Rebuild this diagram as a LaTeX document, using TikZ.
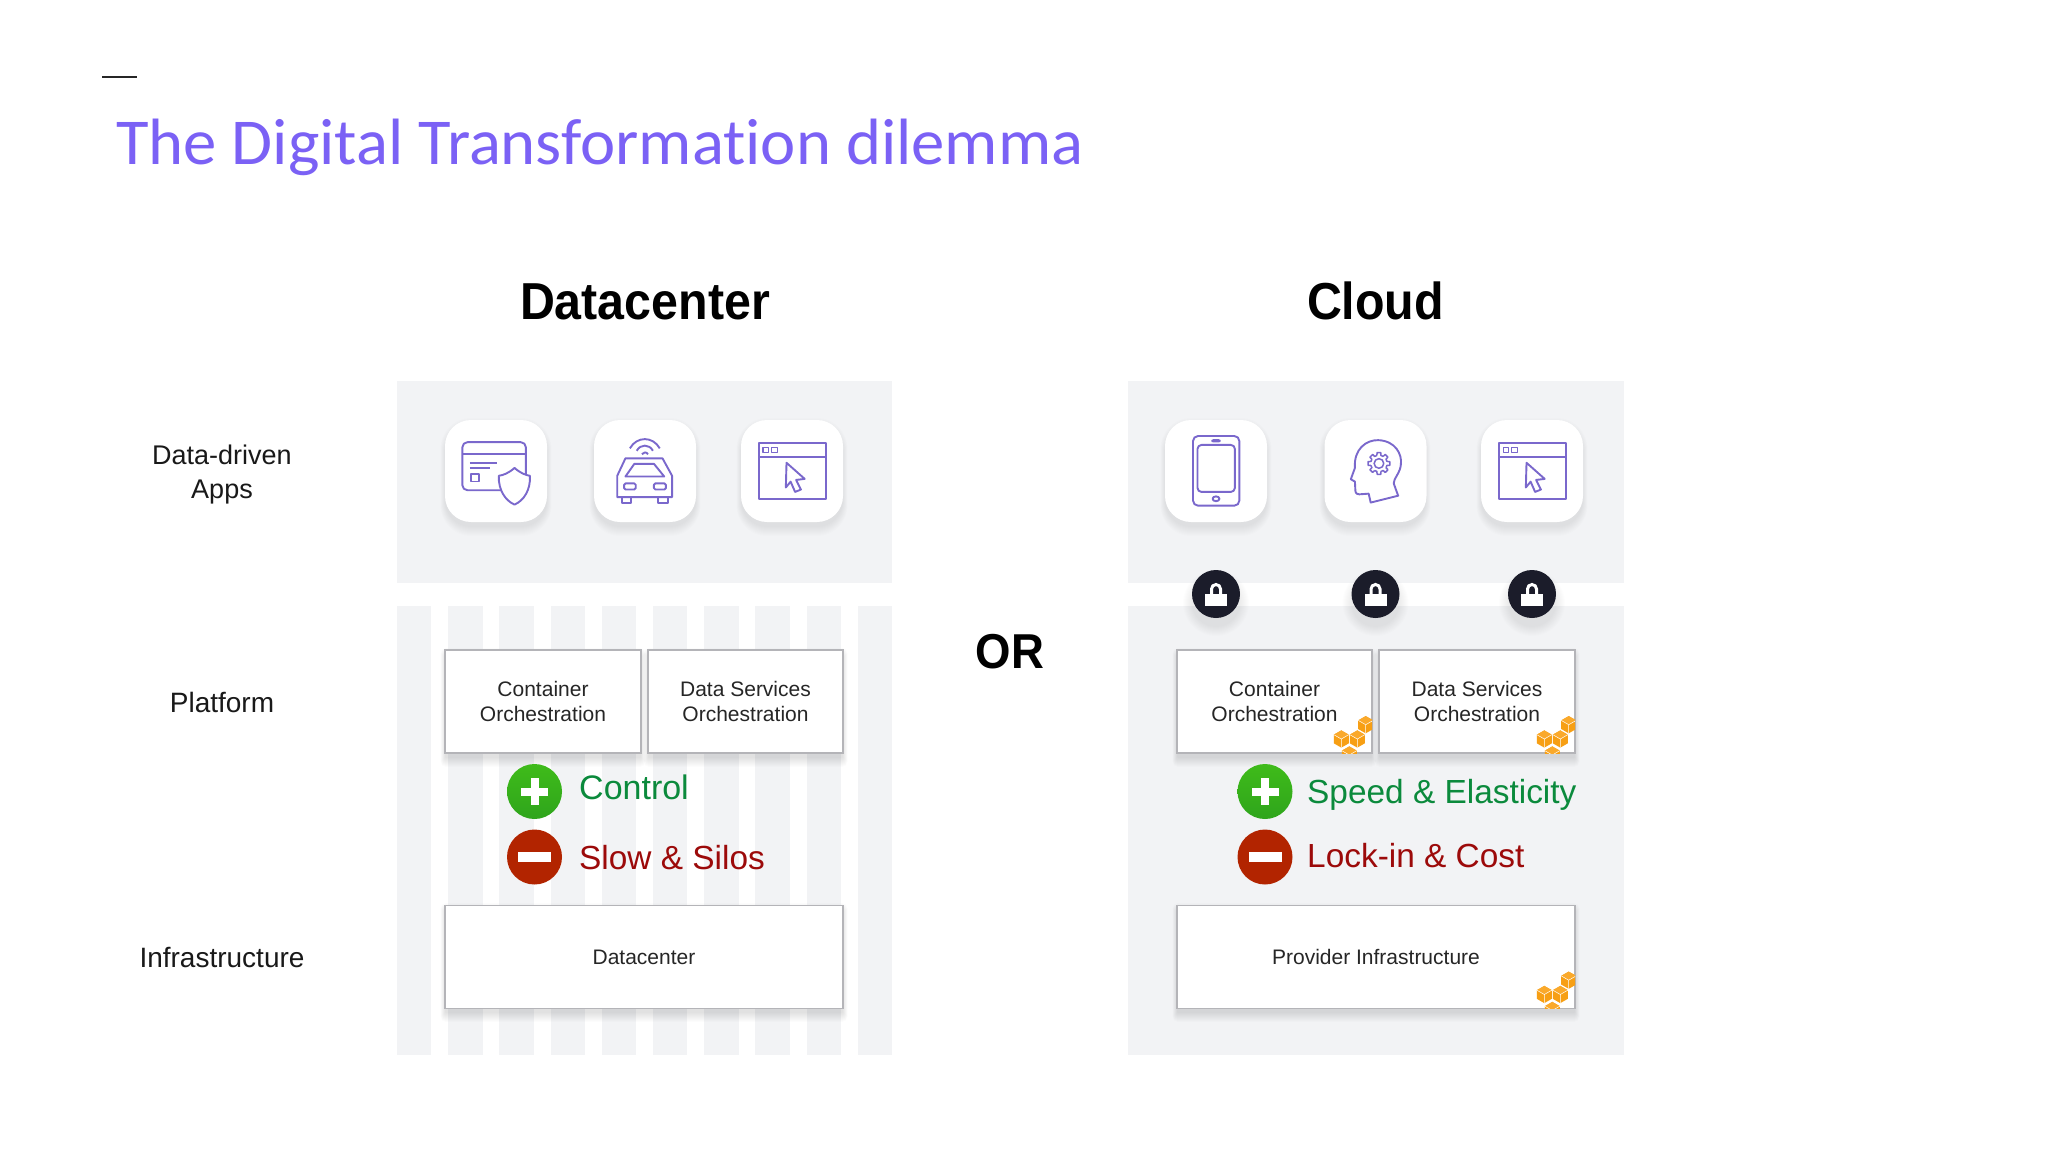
\documentclass[tikz,border=0pt]{standalone}
\usepackage{fontspec}
\setmainfont{Liberation Sans}
\newfontfamily\titlefont[FakeStretch=1.018,Ligatures={NoCommon}]{Carlito}
\newfontfamily\headfont[FakeStretch=.93]{Liberation Sans}
\usetikzlibrary{calc}
\definecolor{panel}{HTML}{F2F3F5}
\definecolor{icon}{HTML}{7A68CC}
\definecolor{titlec}{HTML}{7B61F5}
\definecolor{boxline}{HTML}{B4B4B8}
\definecolor{goodc}{HTML}{0B8A3C}
\definecolor{badc}{HTML}{9C0A0A}
\definecolor{lockc}{HTML}{1B1C2A}
\definecolor{awsc}{HTML}{F79F14}
\definecolor{awsl}{HTML}{FAA92B}
\definecolor{plustop}{HTML}{3FBB1A}
\definecolor{plusbot}{HTML}{2FA51C}
\definecolor{minusc}{HTML}{B22400}
\newcommand\fsz[1]{\fontsize{#1}{#1}\selectfont}
\tikzset{
  x=1pt,y=-1pt,
  panelfill/.style={fill=panel,draw=none},
  platbox/.style={draw=boxline,line width=1.6pt,fill=white,inner sep=0pt,align=center,text=black!85,font=\fsz{21}},
  tile/.style={fill=white,rounded corners=26pt,minimum width=102pt,minimum height=102pt,inner sep=0pt},
  sidelabel/.style={align=center,font=\fsz{28},text=black!90,inner sep=0pt},
  heading/.style={font=\headfont\bfseries\fsz{52},text=black,inner sep=0pt},
  plusnode/.style={circle,minimum size=55pt,inner sep=0pt,top color=plustop,bottom color=plusbot},
  goodlabel/.style={anchor=west,font=\fsz{33.4},text=goodc,inner sep=0pt},
  badlabel/.style={anchor=west,font=\fsz{33.4},text=badc,inner sep=0pt},
  minusnode/.style={circle,minimum size=55pt,inner sep=0pt,fill=minusc},
  locknode/.style={circle,minimum size=48pt,inner sep=0pt,fill=lockc},
  ico/.style={draw=icon,line width=1.9pt,line join=round},
}
\newcommand\softshadow[6]{% x0 y0 x1 y1 radius opacity
  \foreach \i in {0,...,9}{
    \fill[black,opacity=#6,rounded corners=#5+\i*.5] ({#1-\i*.5},#2-\i+7) rectangle ({#3+\i*.5},#4+\i+5);
  }}
\newcommand\awscube[2]{%
  \begin{scope}[shift={(#1,#2)},scale=1.15]
    \fill[awsc] (0,-7.5)--(6.5,-3.75)--(6.5,3.75)--(0,7.5)--(-6.5,3.75)--(-6.5,-3.75)--cycle;
    \fill[awsl] (0,-7.5)--(6.5,-3.75)--(0,0)--(-6.5,-3.75)--cycle;
    \draw[white,line width=.5pt] (-6.5,-3.75)--(0,0)--(6.5,-3.75) (0,0)--(0,7.5);
  \end{scope}}
\newcommand\awscorner[2]{%
  \begin{scope}[shift={(#1,#2)}]
    \clip (-40,-40) rectangle (0,0);
    \awscube{-22.7}{2}
    \awscube{-30.7}{-14}
    \awscube{-14.7}{-14}
    \awscube{-6.3}{-28.3}
  \end{scope}}
\newcommand\browsericon[2]{%
  \begin{scope}[shift={(#1,#2)},x=.343pt,y=-.343pt,shift={(-1196,-304)}]
    \draw[ico] (1100,222) rectangle (1296,386);
    \draw[ico] (1100,262)--(1296,262);
    \draw[ico,line width=1.4pt] (1112,235) rectangle (1128,250) (1137,235) rectangle (1153,250);
    \draw[ico] (1180,280)--(1233,327)--(1208,330)--(1222,358)--(1205,365)--(1192,335)--(1178,352)--cycle;
  \end{scope}}
\newcommand\lockglyph[1]{%
  \draw[white,line width=3pt] ($(#1)+(-4.5,1)$) -- ($(#1)+(-4.5,-5)$) arc[start angle=180,end angle=0,x radius=4.5,y radius=-4.5] -- ($(#1)+(4.5,1)$);
  \fill[white] ($(#1)+(-11,0)$) rectangle ($(#1)+(11,12)$);
}
\begin{document}
\begin{tikzpicture}
\useasboundingbox (0,0) rectangle (2048,1152);
\fill[white] (0,0) rectangle (2048,1152);
% header
\coordinate (dashA) at (102,77); \coordinate (dashB) at (137,77);
\draw[black!85,line width=2.2pt] (dashA) -- (dashB);
\node[anchor=base west,inner sep=0pt,text=titlec,font=\titlefont\fsz{65.5}] (title) at (116,164) {The Digital Transformation dilemma};
\node[heading] (hdc) at (645,302) {Datacenter};
\node[heading] (hcl) at (1375.5,301) {Cloud};
\node[heading,font=\headfont\bfseries\fsz{49}] (or) at (1010,652) {OR};
\node[sidelabel,font=\fsz{27}] (l1) at (222,474.5) {Data-driven\\[7pt]Apps};
\node[sidelabel] (l2) at (222,702) {Platform};
\node[sidelabel] (l3) at (222,957) {Infrastructure};
% panels
\fill[panelfill] (397,381) rectangle (892,583);
\fill[panelfill] (1128,381) rectangle (1624,583);
\fill[panelfill] (1128,606) rectangle (1624,1055);
\foreach \k in {0,...,9}{
  \fill[panelfill] ({397+51.2*\k},606) rectangle ({431.4+51.2*\k},1055);
}
% shadows
\foreach \a/\b in {445/547,594/696,741/843,1165/1267,1324/1426,1481/1583}{
  \softshadow{\a}{420}{\b}{522}{26}{.008}
}
\foreach \a/\b in {445/641,648/843,1177/1372,1379/1575}{
  \softshadow{\a}{650}{\b}{753}{1}{.011}
}
\softshadow{445}{905}{843}{1008}{1}{.011}
\softshadow{1177}{905}{1575}{1008}{1}{.011}
% tiles
\node[tile] (t1) at (496,471) {};
\node[tile] (t2) at (645,471) {};
\node[tile] (t3) at (792,471) {};
\node[tile] (t4) at (1216,471) {};
\node[tile] (t5) at (1375.5,471) {};
\node[tile] (t6) at (1532,471) {};
% card + shield
\begin{scope}[shift={(t1.center)},x=.343pt,y=-.343pt,shift={(-338,-304)}]
  \draw[ico,rounded corners=5pt] (240,220) rectangle (425,360);
  \draw[ico] (240,255)--(425,255);
  \draw[ico] (262,281)--(340,281) (262,295)--(320,295);
  \draw[ico,line width=1.5pt] (265,312) rectangle (288,335);
  \draw[ico,fill=white] (392,295) .. controls (375,310) and (360,316) .. (346,318)
     .. controls (345,360) and (365,390) .. (392,402)
     .. controls (419,390) and (439,360) .. (437,318)
     .. controls (424,316) and (409,310) .. (392,295) -- cycle;
\end{scope}
% car
\begin{scope}[shift={(t2.center)},x=.343pt,y=-.343pt,shift={(-769,-304)}]
  \draw[ico] (725,238) .. controls (745,202) and (792,202) .. (812,238);
  \draw[ico] (745,245) .. controls (755,225) and (782,225) .. (792,245);
  \draw[ico] (760,255) .. controls (765,248) and (772,248) .. (778,255);
  \draw[ico] (712,267)--(820,267)--(848,318)--(848,380)--(688,380)--(688,318)--cycle;
  \draw[ico] (738,283)--(795,283)--(825,320)--(712,320)--cycle;
  \draw[ico,rounded corners=1.5pt] (708,340) rectangle (742,358) (795,340) rectangle (830,358);
  \draw[ico] (702,380) rectangle (728,398) (808,380) rectangle (835,398);
\end{scope}
\browsericon{792}{471}
% tablet
\begin{scope}[shift={(t4.center)},x=.343pt,y=-.343pt,shift={(-279,-304)}]
  \draw[ico,rounded corners=5pt] (212,202) rectangle (347,405);
  \draw[ico,rounded corners=4pt] (225,228) rectangle (334,365);
  \draw[ico,rounded corners=1pt] (268,214) rectangle (290,218);
  \draw[ico] (279,385) ellipse[x radius=10,y radius=7];
\end{scope}
% head + gear
\begin{scope}[shift={(t5.center)},x=.343pt,y=-.343pt,shift={(-742,-304)}]
  \draw[ico] (728,396)--(722,370)--(695,372) .. controls (684,372) and (683,365) .. (683,355)
    --(682,335)--(670,328)--(682,295) .. controls (678,240) and (715,213) .. (750,214)
    .. controls (800,216) and (820,255) .. (816,285)
    .. controls (814,310) and (795,325) .. (795,340)--(808,376)--cycle;
  \draw[ico,line width=1.5pt] (752,282) circle[radius=14];
  \draw[ico,line width=1.5pt]
    \foreach \t in {0,45,...,315}{
      ($(752,282)+(\t-14:24)$) -- ($(752,282)+(\t-10:32)$) -- ($(752,282)+(\t+10:32)$) -- ($(752,282)+(\t+14:24)$) -- ($(752,282)+(\t+31:24)$)
    };
\end{scope}
\browsericon{1532}{471}
% locks
\foreach \n/\a in {a/1216,b/1375.5,c/1532}{
  \foreach \i in {0,...,9}{\fill[black,opacity=.008] (\a,603) circle[radius=24+\i];}
  \node[locknode] (lock\n) at (\a,594) {};
  \lockglyph{lock\n.center}
}
% boxes
\node[platbox,minimum width=196pt,minimum height=103pt] (b1) at (543,701.5) {Container\\[3.8pt]Orchestration};
\node[platbox,minimum width=195pt,minimum height=103pt] (b2) at (745.5,701.5) {Data Services\\[3.8pt]Orchestration};
\node[platbox,minimum width=398pt,minimum height=103pt] (b3) at (644,957) {Datacenter};
\node[platbox,minimum width=195pt,minimum height=103pt] (b4) at (1274.5,701.5) {Container\\[3.8pt]Orchestration};
\node[platbox,minimum width=196pt,minimum height=103pt] (b5) at (1477,701.5) {Data Services\\[3.8pt]Orchestration};
\node[platbox,minimum width=398pt,minimum height=103pt] (b6) at (1376,957) {Provider Infrastructure};
\awscorner{1372}{753}
\awscorner{1575}{753}
\awscorner{1575}{1008.5}
% plus / minus
\foreach \n/\a in {p/534.5,q/1265}{
  \node[plusnode] (\n plus) at (\a,791.5) {};
  \fill[white] ($(\n plus.center)+(-13.5,-4)$) rectangle ($(\n plus.center)+(13.5,4)$);
  \fill[white] ($(\n plus.center)+(-4,-13.5)$) rectangle ($(\n plus.center)+(4,13.5)$);
  \node[minusnode] (\n minus) at (\a,857) {};
  \fill[white] ($(\n minus.center)+(-16.5,-5)$) rectangle ($(\n minus.center)+(16.5,5)$);
}
\node[goodlabel,font=\fsz{34}] (g1) at (579,787) {Control};
\node[badlabel] (r1) at (579,858) {Slow \& Silos};
\node[goodlabel] (g2) at (1307,795) {Speed \& Elasticity};
\node[badlabel] (r2) at (1307,856) {Lock-in \& Cost};
\end{tikzpicture}
\end{document}
